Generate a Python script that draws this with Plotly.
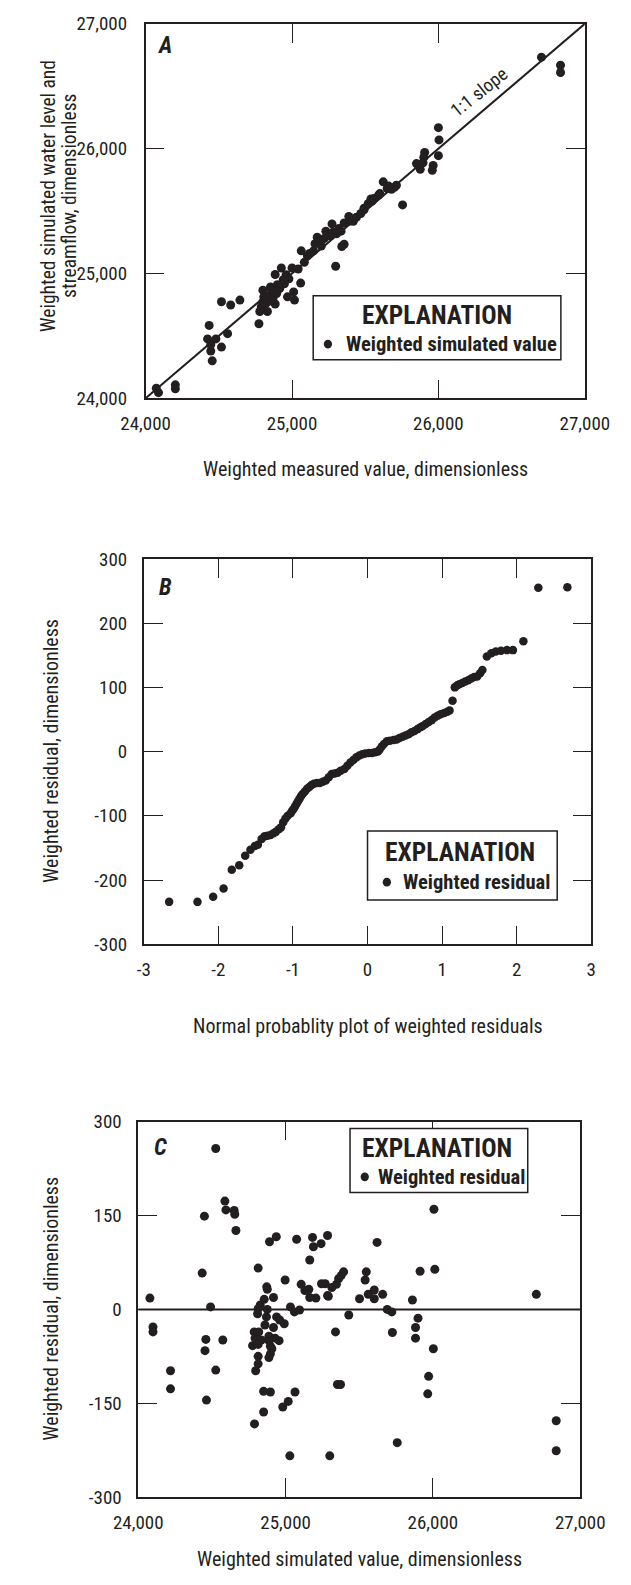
import plotly.graph_objects as go

# ---------------- DATA ----------------
# Panel A: weighted measured (x) vs weighted simulated (y)
a_measured = [26704, 26834, 26834, 26000, 26004, 26000, 25906, 25860, 25895, 25876,
              25964, 25958, 25623, 25650, 25713, 25700, 25680, 25591, 25539, 25547,
              25755, 25492, 25492, 25419, 25388, 25356, 25335, 25356, 25340, 25273,
              25304, 25231, 25172, 25157, 25189, 25147, 25105, 25063, 25084, 25298,
              25000, 25042, 24927, 24885, 24979, 24948, 25059, 25011, 24969, 25017,
              24916, 24895, 24853, 24864, 24801, 24807, 24822, 24790, 24832, 24780,
              24885, 24774, 24644, 24581, 24518, 24560, 24434, 24423, 24480, 24518,
              24445, 24445, 24455, 24203, 24203, 24073, 24088,
              24830, 24860, 24900, 24940, 24960, 24850, 24800, 24870, 25120, 25200,
              25220, 25260, 25280, 25320, 25400, 25440, 25470, 25520, 25560, 25600,
              25660, 25900, 25850]
a_simulated = [26733, 26668, 26610, 26168, 26070, 25944, 25970, 25871, 25886, 25834,
               25865, 25826, 25734, 25681, 25707, 25690, 25675, 25628, 25597, 25580,
               25549, 25523, 25510, 25418, 25457, 25405, 25339, 25234, 25216, 25397,
               25318, 25339, 25291, 25239, 25247, 25181, 25142, 25181, 25089, 25058,
               25044, 25036, 25044, 24992, 24957, 24918, 24923, 24852, 24813, 24787,
               24879, 24839, 24892, 24839, 24866, 24813, 24760, 24734, 24695, 24695,
               24755, 24597, 24787, 24747, 24773, 24518, 24584, 24476, 24476, 24410,
               24431, 24379, 24300, 24108, 24076, 24081, 24045,
               24820, 24870, 24910, 24950, 24990, 24780, 24770, 24800, 25160, 25220,
               25280, 25300, 25330, 25360, 25420, 25450, 25480, 25560, 25600, 25640,
               25700, 25930, 25880]
one_to_one = [24000, 27000]

# Panel B: normal probability plot of weighted residuals
b_quantile = [-2.66, -2.28, -2.07, -1.93, -1.82, -1.72, -1.64, -1.57, -1.51, -1.47,
              -1.42, -1.38, -1.34, -1.30, -1.26, -1.23, -1.19, -1.16, -1.13, -1.10,
              -1.07, -1.03, -1.01, -0.99, -0.97, -0.95, -0.93, -0.91, -0.89, -0.87,
              -0.84, -0.81, -0.78, -0.75, -0.72, -0.68, -0.64, -0.60, -0.56, -0.52,
              -0.48, -0.44, -0.40, -0.36, -0.31, -0.27, -0.23, -0.19, -0.15, -0.11,
              -0.07, -0.03, 0.02, 0.06, 0.10, 0.14, 0.16, 0.19, 0.22, 0.26,
              0.30, 0.35, 0.39, 0.43, 0.47, 0.51, 0.55, 0.59, 0.63, 0.67,
              0.71, 0.74, 0.78, 0.82, 0.86, 0.90, 0.94, 0.98, 1.03, 1.07,
              1.10, 1.14, 1.17, 1.20, 1.23, 1.27, 1.31, 1.35, 1.39, 1.43,
              1.47, 1.51, 1.54, 1.60, 1.66, 1.72, 1.79, 1.87, 1.95, 2.09,
              2.29, 2.68]
b_residual = [-234, -234, -226, -213, -184, -177, -162, -153, -147, -145,
              -136, -132, -131, -130, -127, -125, -121, -118, -110, -104,
              -100, -96, -92, -89, -85, -81, -77, -73, -69, -66,
              -62, -58, -55, -52, -50, -49, -49, -47, -45, -40,
              -35, -34, -33, -30, -27, -22, -17, -13, -9, -6,
              -4, -3, -2, -2, -1, 0, 3, 8, 12, 16,
              17, 18, 19, 21, 23, 25, 27, 30, 32, 35,
              38, 40, 43, 46, 49, 53, 56, 58, 60, 62,
              64, 79, 100, 103, 105, 107, 109, 111, 114, 116,
              117, 122, 127, 148, 153, 156, 157, 158, 158, 172,
              255, 256]

# Panel C: weighted simulated value (x) vs weighted residual (y)
c_simulated = [24526, 24449, 24588, 24595, 24651, 24655, 24663, 26007, 24891, 24937,
               25075, 25183, 25189, 25241, 25285, 25621, 25164, 24814, 24434, 25394,
               25548, 25913, 26013, 24079, 24491, 24872, 24876, 24918, 24855, 24828,
               24814, 24876, 24810, 24870, 24939, 24960, 24991, 24860, 24918, 24787,
               24818, 24793, 24835, 24887, 24929, 24956, 24887, 24776, 24814, 24897,
               24907, 24897, 24887, 24814, 24814, 24797, 24997, 25033, 25060, 25095,
               25106, 25131, 25158, 25164, 25206, 25244, 25269, 25285, 25290, 25314,
               25345, 25360, 25377, 25339, 25429, 25502, 25540, 25561, 25602, 25602,
               25659, 25690, 25721, 25725, 25861, 25899, 25882, 25882, 26003, 25971,
               25965, 26702, 24100, 24100, 24219, 24219, 24459, 24574, 24453, 24526,
               24463, 24789, 24851, 24897, 24851, 24981, 25018, 25064, 25352, 25373,
               25758, 25029, 25300, 26837, 26837]
c_residual = [257, 149, 173, 159, 158, 152, 126, 160, 108, 116,
              112, 115, 100, 105, 118, 107, 79, 66, 58, 60,
              60, 61, 64, 18, 4, 36, 32, 19, 16, 7,
              1, 0, -7, -12, -12, -17, -23, -25, -29, -36,
              -36, -46, -49, -43, -46, -50, -50, -58, -56, -59,
              -63, -71, -77, -75, -87, -98, 47, 4, -4, -1,
              40, 30, 32, 19, 18, 41, 41, 22, 21, 35,
              40, 49, 54, -36, -9, 17, 47, 24, 31, 17,
              24, 0, -4, -37, 15, -14, -29, -46, -63, -107,
              -135, 24, -28, -36, -98, -127, -48, -49, -66, -97,
              -145, -183, -131, -132, -164, -156, -147, -132, -120, -120,
              -213, -234, -234, -178, -226]
zero_line_x = [24000, 27000]
zero_line_y = [0, 0]

thousand_ticks = [24000, 25000, 26000, 27000]
thousand_text = ["24,000", "25,000", "26,000", "27,000"]
b_xticks = [-3, -2, -1, 0, 1, 2, 3]
b_xtext = ["-3", "-2", "-1", "0", "1", "2", "3"]
b_yticks = [-300, -200, -100, 0, 100, 200, 300]
b_ytext = ["-300", "-200", "-100", "0", "100", "200", "300"]
c_yticks = [-300, -150, 0, 150, 300]
c_ytext = ["-300", "-150", "0", "150", "300"]

# ---------------- STYLE ----------------
W, H = 631, 1585
INK = "#231f20"
FONT = "Liberation Sans Narrow, Arial Narrow, Roboto Condensed, Roboto, sans-serif"
TICK = 19
TITLE = 20


def px(x):
    return x / W


def py(y):
    return 1 - y / H


fig = go.Figure()

fig.add_trace(go.Scatter(x=one_to_one, y=one_to_one, mode="lines",
                         line=dict(color=INK, width=2), xaxis="x", yaxis="y",
                         showlegend=False, hoverinfo="skip"))
fig.add_trace(go.Scatter(x=a_measured, y=a_simulated, mode="markers",
                         marker=dict(color=INK, size=9), xaxis="x", yaxis="y",
                         name="Weighted simulated value", showlegend=False))
fig.add_trace(go.Scatter(x=b_quantile, y=b_residual, mode="markers",
                         marker=dict(color=INK, size=8.5), xaxis="x2", yaxis="y2",
                         name="Weighted residual", showlegend=False))
fig.add_trace(go.Scatter(x=zero_line_x, y=zero_line_y, mode="lines",
                         line=dict(color=INK, width=2), xaxis="x3", yaxis="y3",
                         showlegend=False, hoverinfo="skip"))
fig.add_trace(go.Scatter(x=c_simulated, y=c_residual, mode="markers",
                         marker=dict(color=INK, size=9), xaxis="x3", yaxis="y3",
                         name="Weighted residual", showlegend=False))

axis_common = dict(showline=True, linecolor=INK, linewidth=1.5, mirror="ticks",
                   ticks="inside", ticklen=19, tickwidth=1.2, tickcolor=INK,
                   showgrid=False, zeroline=False, tickmode="array",
                   tickfont=dict(family=FONT, size=TICK, color=INK))

# Panel domains (pixels -> paper)
A = dict(l=131, r=608, t=13, b=393)
B = dict(l=129, r=615, t=556, b=947)
C = dict(l=123, r=603, t=1127, b=1508)

fig.update_layout(
    width=W, height=H, autosize=False,
    margin=dict(l=0, r=0, t=0, b=0, pad=0),
    paper_bgcolor="white", plot_bgcolor="white",
    font=dict(family=FONT, color=INK),
    xaxis=dict(domain=[px(A["l"]), px(A["r"])], range=[24000, 27000],
               tickvals=thousand_ticks, ticktext=thousand_text,
               ticklabelstandoff=7, anchor="y", **axis_common),
    yaxis=dict(domain=[py(A["b"]), py(A["t"])], range=[24000, 27000],
               tickvals=thousand_ticks, ticktext=thousand_text,
               ticklabelstandoff=13, anchor="x", **axis_common),
    xaxis2=dict(domain=[px(B["l"]), px(B["r"])], range=[-3, 3],
                tickvals=b_xticks, ticktext=b_xtext,
                ticklabelstandoff=7, anchor="y2", **axis_common),
    yaxis2=dict(domain=[py(B["b"]), py(B["t"])], range=[-300, 300],
                tickvals=b_yticks, ticktext=b_ytext,
                ticklabelstandoff=11, anchor="x2", **axis_common),
    xaxis3=dict(domain=[px(C["l"]), px(C["r"])], range=[24000, 27000],
                tickvals=thousand_ticks, ticktext=thousand_text,
                ticklabelstandoff=7, anchor="y3", **axis_common),
    yaxis3=dict(domain=[py(C["b"]), py(C["t"])], range=[-300, 300],
                tickvals=c_yticks, ticktext=c_ytext,
                ticklabelstandoff=11, anchor="x3", **axis_common),
)

ann = []


def text(x, y, s, size, bold=False, italic=False, angle=0, xanchor="center",
         yanchor="middle"):
    t = s
    if bold:
        t = "<b>" + t + "</b>"
    if italic:
        t = "<i>" + t + "</i>"
    ann.append(dict(x=px(x), y=py(y), xref="paper", yref="paper", text=t,
                    showarrow=False, textangle=angle, xanchor=xanchor,
                    yanchor=yanchor, font=dict(family=FONT, size=size, color=INK)))


# axis titles
text(25, 188, "Weighted simulated water level and", 19.5, angle=-90)
text(48.5, 188, "streamflow, dimensionless", 19.5, angle=-90)
text(370, 465, "Weighted measured value, dimensionless", TITLE)
text(28, 751, "Weighted residual, dimensionless", TITLE, angle=-90)
text(372, 1030, "Normal probablity plot of weighted residuals", TITLE)
text(28, 1317, "Weighted residual, dimensionless", TITLE, angle=-90)
text(363, 1571, "Weighted simulated value, dimensionless", TITLE)

# panel letters
text(152, 35, "A", 23, bold=True, italic=True)
text(153, 585, "B", 23, bold=True, italic=True)
text(147, 1153, "C", 23, bold=True, italic=True)

# 1:1 slope label along the line
ann.append(dict(x=26283, y=26283, xref="x", yref="y", text="1:1 slope",
                showarrow=False, textangle=-38.5, yshift=21,
                font=dict(family=FONT, size=18.5, color=INK)))

# explanation boxes
shapes = []
boxes = [
    (313, 582, 289, 354, 447, 308, 329, 338, 346, "Weighted simulated value"),
    (372, 578, 832, 902, 472, 853, 393, 884, 408, "Weighted residual"),
    (353, 546, 1134, 1199, 447, 1154, 369, 1183, 381, "Weighted residual"),
]
for (l, r, t, b, tx, ty, mx, my, lx, label) in boxes:
    shapes.append(dict(type="rect", xref="paper", yref="paper",
                       x0=px(l), x1=px(r), y0=py(b), y1=py(t),
                       line=dict(color=INK, width=1.5), fillcolor="white", layer="above"))
    text(tx, ty, "EXPLANATION", 25.5, bold=True)
    shapes.append(dict(type="circle", xref="paper", yref="paper",
                       x0=px(mx - 4.5), x1=px(mx + 4.5), y0=py(my + 4.5), y1=py(my - 4.5),
                       line=dict(color=INK, width=0), fillcolor=INK, layer="above"))
    text(lx, my, label, 20.5, bold=True, xanchor="left")

fig.update_layout(annotations=ann, shapes=shapes)

fig.write_html("out.html", config={"displayModeBar": False},
               post_script="document.body.style.margin='0';")
